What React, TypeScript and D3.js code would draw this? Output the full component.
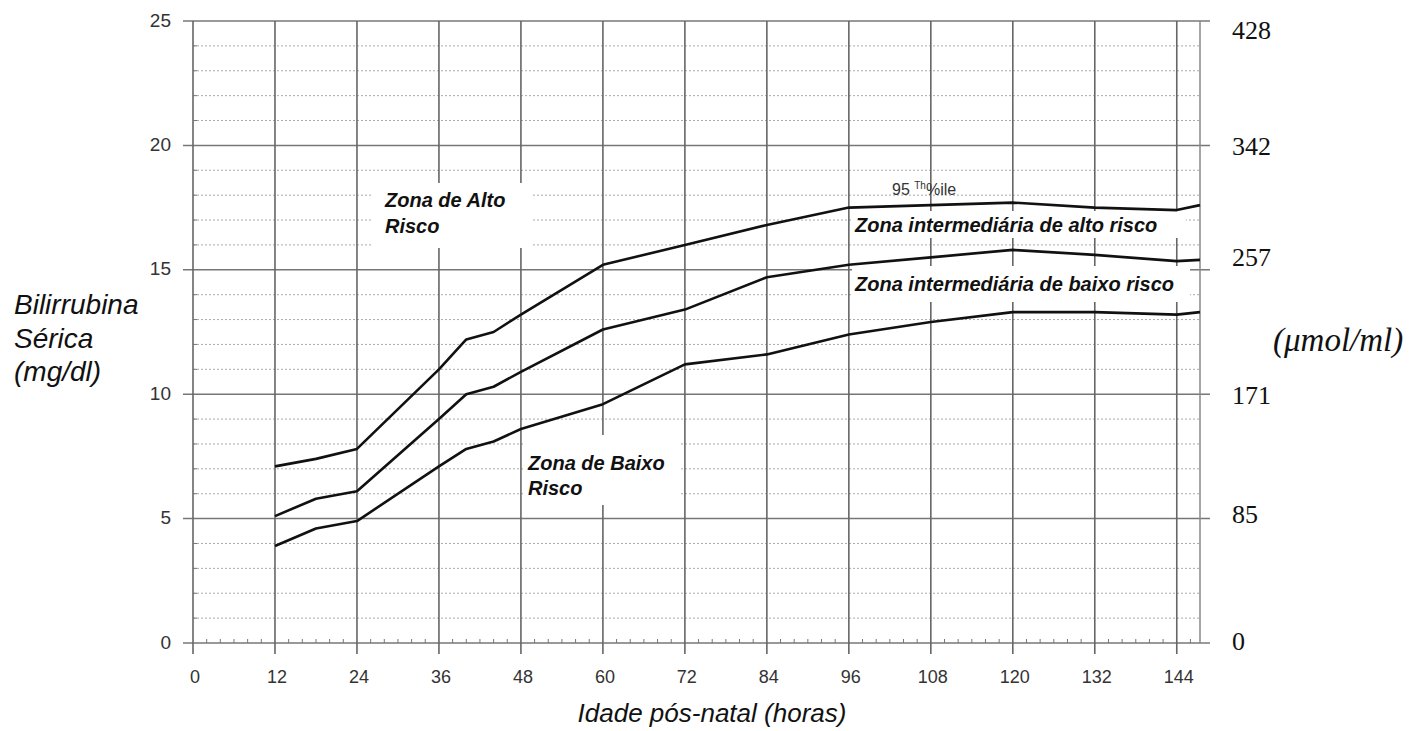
import React from "react";
import * as d3 from "d3";

const hours = [12, 18, 24, 36, 40, 44, 48, 60, 72, 84, 96, 108, 120, 132, 144, 147.4];
const p95 = [7.1, 7.4, 7.8, 11.0, 12.2, 12.5, 13.2, 15.2, 16.0, 16.8, 17.5, 17.6, 17.7, 17.5, 17.4, 17.6];
const p75 = [5.1, 5.8, 6.1, 9.0, 10.0, 10.3, 10.9, 12.6, 13.4, 14.7, 15.2, 15.5, 15.8, 15.6, 15.35, 15.4];
const p40 = [3.9, 4.6, 4.9, 7.1, 7.8, 8.1, 8.6, 9.6, 11.2, 11.6, 12.4, 12.9, 13.3, 13.3, 13.2, 13.3];
const xTicks = [0, 12, 24, 36, 48, 60, 72, 84, 96, 108, 120, 132, 144];
const yTicks = [0, 5, 10, 15, 20, 25];
const rightTicks = [0, 85, 171, 257, 342, 428];

const W = 1410, H = 731;
const L = 193, R = 1200, T = 21, B = 643;

export default function App() {
  const x = d3.scaleLinear().domain([0, 147.4]).range([L, R]);
  const y = d3.scaleLinear().domain([0, 25]).range([B, T]);
  const yr = d3.scaleLinear().domain([0, 428]).range([B, T]);
  const line = d3.line<number>().x((_, i) => x(hours[i])).y((d) => y(d));
  const minorY = d3.range(1, 25).filter((v) => v % 5 !== 0);
  const minorX = d3.range(2, 147, 2).filter((v) => v % 12 !== 0);
  const sans = "Arial, 'Liberation Sans', sans-serif";
  const serif = "'Times New Roman', 'Liberation Serif', serif";
  const boxes = [
    { x0: 371, x1: 532, y0: 183, y1: 248 },
    { x0: 525, x1: 680, y0: 435, y1: 505 },
    { x0: 852, x1: 1186, y0: 211, y1: 238 },
    { x0: 852, x1: 1190, y0: 266, y1: 302 },
  ];
  const rightOffset: Record<number, number> = { 428: 9, 342: 0, 257: -13, 171: 0, 85: -6, 0: -2 };
  return (
    <svg width={W} height={H} style={{ position: "absolute", left: 0, top: 0, background: "#fff" }}>
      <rect x={0} y={0} width={W} height={H} fill="#fff" />
      {minorY.map((v) => (
        <line key={"my" + v} x1={L} x2={R} y1={y(v)} y2={y(v)} stroke="#aaa" strokeWidth={1} strokeDasharray="2,2" />
      ))}
      {yTicks.map((v) => (
        <line key={"My" + v} x1={L - 10} x2={R + 10} y1={y(v)} y2={y(v)} stroke="#777" strokeWidth={1.5} />
      ))}
      {xTicks.map((v) => (
        <line key={"Mx" + v} x1={x(v)} x2={x(v)} y1={T} y2={B + 11} stroke="#666" strokeWidth={1.6} />
      ))}
      <line x1={R} x2={R} y1={T} y2={B} stroke="#888" strokeWidth={1.5} />
      {minorX.map((v) => (
        <line key={"mx" + v} x1={x(v)} x2={x(v)} y1={B - 4} y2={B} stroke="#777" strokeWidth={1} />
      ))}
      {minorY.map((v) => (
        <line key={"lt" + v} x1={L} x2={L + 4} y1={y(v)} y2={y(v)} stroke="#777" strokeWidth={1} />
      ))}
      {boxes.map((b, i) => (
        <rect key={"b" + i} x={b.x0} y={b.y0} width={b.x1 - b.x0} height={b.y1 - b.y0} fill="#fff" />
      ))}
      {[p95, p75, p40].map((s, i) => (
        <path key={"s" + i} d={line(s) || ""} fill="none" stroke="#111" strokeWidth={2.6} strokeLinejoin="round" />
      ))}
      {yTicks.map((v) => (
        <text key={"yl" + v} x={171} y={y(v) - 1} dy="0.35em" textAnchor="end" fontFamily={sans} fontSize={19} fill="#333">
          {v}
        </text>
      ))}
      {xTicks.map((v) => (
        <text key={"xl" + v} x={x(v) + 2} y={683} textAnchor="middle" fontFamily={sans} fontSize={18} fill="#333">
          {v}
        </text>
      ))}
      {rightTicks.map((v) => (
        <text key={"rl" + v} x={1232} y={yr(v) + rightOffset[v]} dy="0.35em" fontFamily={serif} fontSize={26} fill="#111">
          {v}
        </text>
      ))}
      <g fontFamily={sans} fontStyle="italic" fontSize={28} fill="#111">
        <text x={14} y={314}>Bilirrubina</text>
        <text x={14} y={348}>Sérica</text>
        <text x={14} y={381}>(mg/dl)</text>
        <text x={712} y={722} textAnchor="middle" fontSize={26}>Idade pós-natal (horas)</text>
      </g>
      <text x={1273} y={351} fontFamily={serif} fontStyle="italic" fontSize={33} fill="#111">(μmol/ml)</text>
      <g fontFamily={sans} fontStyle="italic" fontWeight="bold" fontSize={20} fill="#111">
        <text x={385} y={207}>Zona de Alto</text>
        <text x={385} y={233}>Risco</text>
        <text x={528} y={470}>Zona de Baixo</text>
        <text x={528} y={495}>Risco</text>
        <text x={855} y={232}>Zona intermediária de alto risco</text>
        <text x={855} y={291}>Zona intermediária de baixo risco</text>
      </g>
      <text x={892} y={195} fontFamily={sans} fontSize={16} fill="#333">
        95 <tspan fontSize={10} dy={-6}>Th</tspan><tspan dy={6}>%ile</tspan>
      </text>
    </svg>
  );
}
